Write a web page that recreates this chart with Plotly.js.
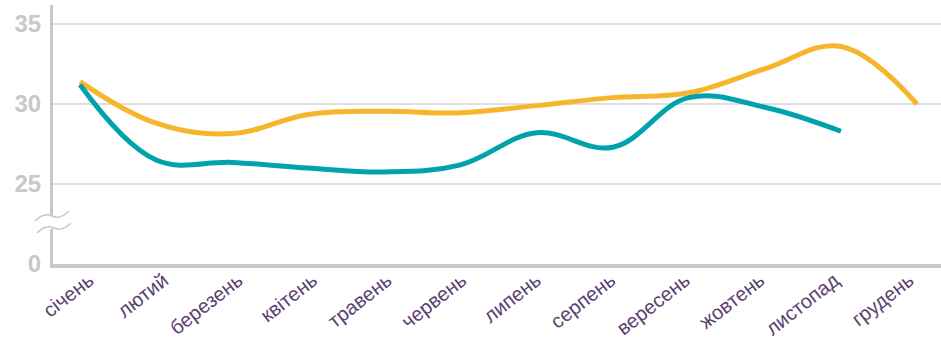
<!DOCTYPE html>
<html>
<head>
<meta charset="utf-8">
<script src="https://cdn.plot.ly/plotly-3.0.1.min.js"></script>
<style>html,body{margin:0;padding:0;background:#fff;}#chart{width:941px;height:342px;}</style>
</head>
<body>
<div id="chart"></div>
<script>
const months = ["січень","лютий","березень","квітень","травень","червень","липень","серпень","вересень","жовтень","листопад","грудень"];
const orangeSeries = [31.4, 28.8, 28.15, 29.35, 29.55, 29.45, 29.9, 30.4, 30.7, 32.2, 33.6, 30.0];
const tealSeries = [31.2, 26.5, 26.35, 26.0, 25.75, 26.2, 28.2, 27.3, 30.4, 29.8, 28.3];
const yTickVals = [20, 25, 30, 35];
const yTickText = ["0", "25", "30", "35"];

const W = 941, H = 342, L = 53, T = 5, B = 264;
const px = x => (x - L) / (W - L);
const py = y => (B - y) / (B - T);
function sq(x0, y0){
  return 'M' + px(x0) + ',' + py(y0) +
    ' Q' + px(x0+9) + ',' + py(y0-9) + ' ' + px(x0+17) + ',' + py(y0-5) +
    ' T' + px(x0+34) + ',' + py(y0-10);
}
const monthIdx = months.map((m, i) => i);

const data = [
  {x: months, y: orangeSeries, type: 'scatter', mode: 'lines',
   line: {color: '#F7B52C', width: 5, shape: 'spline', smoothing: 1.1}, hoverinfo: 'skip'},
  {x: months.slice(0, tealSeries.length), y: tealSeries, type: 'scatter', mode: 'lines',
   line: {color: '#00A3AB', width: 5, shape: 'spline', smoothing: 1.1}, hoverinfo: 'skip'},
  {x: monthIdx, y: monthIdx.map(() => null), xaxis: 'x2', type: 'scatter', mode: 'lines',
   showlegend: false, hoverinfo: 'skip'}
];

const labelPx0 = 89, labelPx11 = 909;
const unit = (labelPx11 - labelPx0) / 11;

const layout = {
  width: W, height: H,
  margin: {l: L, r: 0, t: T, b: H - B},
  paper_bgcolor: '#fff', plot_bgcolor: '#fff',
  showlegend: false,
  xaxis: {
    type: 'category', range: [-0.355, 11.315],
    showgrid: false, zeroline: false,
    showline: true, linecolor: '#c8c8c8', linewidth: 3.5,
    ticks: '', showticklabels: false
  },
  xaxis2: {
    overlaying: 'x', anchor: 'y', side: 'bottom', type: 'linear',
    range: [(L - labelPx0) / unit, 11 + (W - labelPx11) / unit],
    tickvals: monthIdx, ticktext: months,
    showgrid: false, zeroline: false, showline: false, ticks: '',
    tickangle: -38,
    tickfont: {family: 'Liberation Sans, Arial, sans-serif', size: 20, color: '#5b3f70'}
  },
  yaxis: {
    range: [20, 36.19],
    tickvals: yTickVals, ticktext: yTickText,
    showgrid: true, gridcolor: '#dedede', gridwidth: 1.2,
    zeroline: false,
    showline: true, linecolor: '#c8c8c8', linewidth: 3,
    ticks: '', ticklabelstandoff: 4,
    tickfont: {family: 'Liberation Sans, Arial, sans-serif', size: 24, color: '#c8c8c8', weight: 'bold'}
  },
  shapes: [
    {type: 'rect', xref: 'paper', yref: 'paper', x0: px(49), x1: px(58), y0: py(229), y1: py(215),
     fillcolor: '#fff', line: {width: 0}, layer: 'above'},
    {type: 'path', xref: 'paper', yref: 'paper', path: sq(35, 221), line: {color: '#c8c8c8', width: 1.5}, layer: 'above'},
    {type: 'path', xref: 'paper', yref: 'paper', path: sq(37, 233), line: {color: '#c8c8c8', width: 1.5}, layer: 'above'}
  ]
};

Plotly.newPlot('chart', data, layout, {displayModeBar: false, staticPlot: true});
</script>
</body>
</html>
